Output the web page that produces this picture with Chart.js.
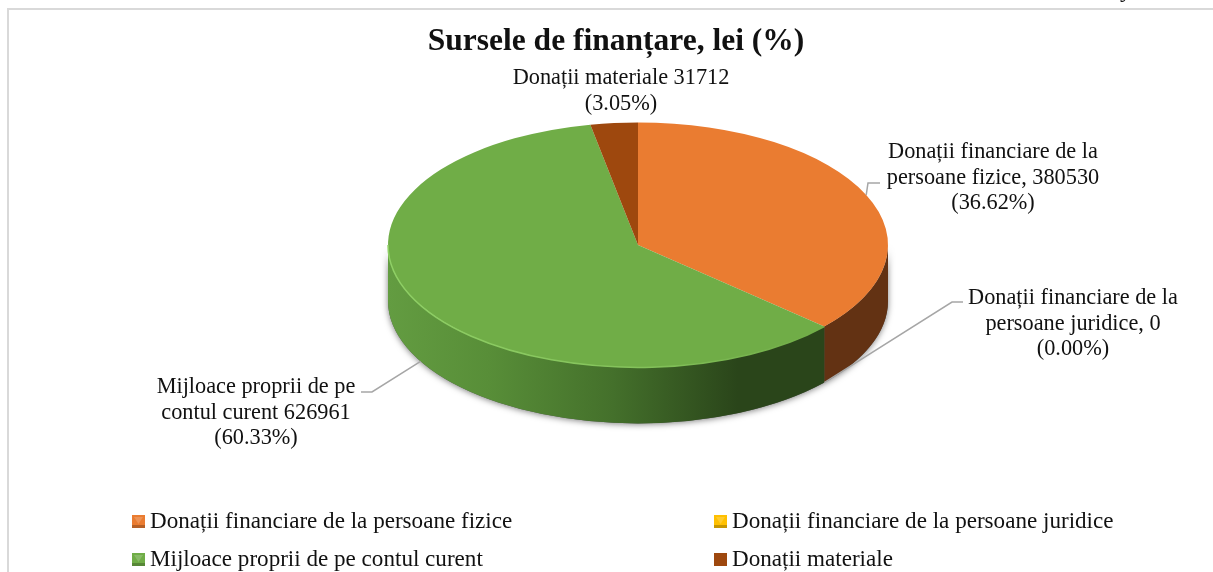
<!DOCTYPE html>
<html>
<head>
<meta charset="utf-8">
<title>Sursele de finanțare</title>
<script src="https://cdn.jsdelivr.net/npm/chart.js@4"></script>
<style>
  html, body { margin: 0; padding: 0; background: #fff; overflow: hidden; }
  canvas { display: block; }
</style>
</head>
<body>
<canvas id="pie-chart" width="1213" height="572"></canvas>
<script>
const chartTitle = 'Sursele de finanțare, lei (%)';
const categories = [
    'Donații financiare de la persoane fizice',
    'Donații financiare de la persoane juridice',
    'Mijloace proprii de pe contul curent',
    'Donații materiale'
];
const values = [380530, 0, 626961, 31712];
const sliceColors = ['#EA7C31', '#FFC000', '#70AD47', '#9E480E'];

const labelLines = [
    ['Donații financiare de la', 'persoane fizice, 380530', '(36.62%)'],
    ['Donații financiare de la', 'persoane juridice, 0', '(0.00%)'],
    ['Mijloace proprii de pe', 'contul curent 626961', '(60.33%)'],
    ['Donații materiale 31712', '(3.05%)']
];

const FONT = '"Liberation Serif", serif';
const SQUASH = 0.49;
const DEPTH = 56;

// pozitia etichetelor: centru x, prima linie y, cotul liniei de legatura
const labelBoxes = [
    { x: 993, y: 158, elbow: [[868, 183], [880, 183]] },
    { x: 1073, y: 304, elbow: [[952, 302], [963, 302]] },
    { x: 256, y: 393, elbow: [[372, 392], [361, 392]] },
    { x: 621, y: 84, elbow: null }
];

const legendBoxes = [
    { x: 132, y: 515 },
    { x: 714, y: 515 },
    { x: 132, y: 553 },
    { x: 714, y: 553 }
];

// peretele lateral al feliei, doar partea vizibila (unghiuri 0..PI)
function drawSides(chart) {
    const ctx = chart.ctx;
    const arcs = chart.getDatasetMeta(0).data;
    const cx = arcs[0].x, cy = arcs[0].y, r = arcs[0].outerRadius;
    const ry = r * SQUASH;

    // umbra
    ctx.save();
    ctx.shadowColor = 'rgba(0,0,0,0.5)';
    ctx.shadowBlur = 6;
    ctx.shadowOffsetY = 1;
    ctx.fillStyle = '#555';
    ctx.beginPath();
    ctx.ellipse(cx, cy, r, ry, 0, Math.PI, 0, true);
    ctx.ellipse(cx, cy + DEPTH, r, ry, 0, 0, Math.PI);
    ctx.closePath();
    ctx.fill();
    ctx.restore();

    arcs.forEach((arc, i) => {
        if (!values[i]) return;
        const a0 = Math.max(arc.startAngle, 0);
        const a1 = Math.min(arc.endAngle, Math.PI);
        if (a1 <= a0) return;
        let fill;
        if (i === 0) {
            fill = '#633213';
        } else {
            fill = ctx.createLinearGradient(cx - r, 0, cx + r, 0);
            fill.addColorStop(0, '#639C41');
            fill.addColorStop(0.2, '#588E38');
            fill.addColorStop(0.45, '#44702B');
            fill.addColorStop(0.7, '#2A451A');
            fill.addColorStop(1, '#2A451A');
        }
        ctx.fillStyle = fill;
        ctx.beginPath();
        ctx.ellipse(cx, cy, r, ry, 0, a0, a1);
        ctx.ellipse(cx, cy + DEPTH, r, ry, 0, a1, a0, true);
        ctx.closePath();
        ctx.fill();
    });
}

function drawRim(chart) {
    const ctx = chart.ctx;
    const arcs = chart.getDatasetMeta(0).data;
    const cx = arcs[0].x, cy = arcs[0].y, r = arcs[0].outerRadius;
    const green = arcs[2];
    const rim = ctx.createLinearGradient(cx - r, 0, cx + r, 0);
    rim.addColorStop(0, '#8FD065');
    rim.addColorStop(0.5, '#84C25B');
    rim.addColorStop(0.85, '#70AD47');
    ctx.save();
    ctx.strokeStyle = rim;
    ctx.lineWidth = 1.5;
    ctx.beginPath();
    ctx.ellipse(cx, cy, r, r * SQUASH, 0, green.startAngle, Math.PI);
    ctx.stroke();
    ctx.restore();
}

function drawLabels(chart) {
    const ctx = chart.ctx;
    const arcs = chart.getDatasetMeta(0).data;
    ctx.save();
    ctx.font = '22.3px ' + FONT;
    ctx.fillStyle = '#111';
    ctx.textAlign = 'center';
    ctx.textBaseline = 'alphabetic';
    labelLines.forEach((lines, i) => {
        lines.forEach((line, k) => {
            ctx.fillText(line, labelBoxes[i].x, labelBoxes[i].y + k * 25.5);
        });
        if (!labelBoxes[i].elbow) return;
        // linia de legatura porneste din mijlocul feliei, pe margine
        const arc = arcs[i];
        const mid = (arc.startAngle + arc.endAngle) / 2;
        const sx = arc.x + arc.outerRadius * Math.cos(mid);
        let sy = arc.y + arc.outerRadius * SQUASH * Math.sin(mid);
        if (Math.sin(mid) > 0) sy += DEPTH;
        ctx.strokeStyle = '#A6A6A6';
        ctx.lineWidth = 1.5;
        ctx.beginPath();
        ctx.moveTo(sx, sy);
        labelBoxes[i].elbow.forEach(p => ctx.lineTo(p[0], p[1]));
        ctx.stroke();
    });
    ctx.restore();
}

function drawLegend(chart) {
    const ctx = chart.ctx;
    ctx.save();
    ctx.font = '23.1px ' + FONT;
    ctx.textBaseline = 'alphabetic';
    ctx.textAlign = 'left';
    categories.forEach((name, i) => {
        const b = legendBoxes[i];
        ctx.fillStyle = sliceColors[i];
        ctx.fillRect(b.x, b.y, 13, 13);
        if (i !== 3) {
            ctx.fillStyle = 'rgba(0,0,0,0.22)';
            ctx.fillRect(b.x, b.y + 10, 13, 3);
            ctx.fillStyle = 'rgba(255,255,255,0.18)';
            ctx.beginPath();
            ctx.moveTo(b.x + 2, b.y + 2);
            ctx.lineTo(b.x + 11, b.y + 2);
            ctx.lineTo(b.x + 6.5, b.y + 9);
            ctx.closePath();
            ctx.fill();
        }
        ctx.fillStyle = '#111';
        ctx.fillText(name, b.x + 18, b.y + 13);
    });
    ctx.restore();
}

const pie3d = {
    id: 'pie3d',
    afterLayout(chart) {
        // titlul nu e centrat pe placinta
        chart.titleBlock.left -= 44;
    },
    beforeDraw(chart) {
        const ctx = chart.ctx;
        ctx.save();
        ctx.strokeStyle = '#D9D9D9';
        ctx.lineWidth = 2;
        ctx.beginPath();
        ctx.moveTo(8, 572);
        ctx.lineTo(8, 9);
        ctx.lineTo(1213, 9);
        ctx.stroke();
        // coada de litera ramasa din pagina, taiata sus
        ctx.font = '24px ' + FONT;
        ctx.fillStyle = '#111';
        ctx.fillText('y', 1120, -3);
        ctx.restore();
    },
    beforeDatasetsDraw(chart) {
        drawSides(chart);
        const arc = chart.getDatasetMeta(0).data[0];
        const ctx = chart.ctx;
        ctx.save();
        ctx.translate(arc.x, arc.y);
        ctx.scale(1, SQUASH);
        ctx.translate(-arc.x, -arc.y);
    },
    afterDatasetsDraw(chart) {
        chart.ctx.restore();
        drawRim(chart);
        drawLabels(chart);
        drawLegend(chart);
    }
};

const ctx = document.getElementById('pie-chart').getContext('2d');
const myChart = new Chart(ctx, {
    type: 'pie',
    data: {
        labels: categories,
        datasets: [{
            data: values,
            backgroundColor: sliceColors,
            borderWidth: 0,
            radius: 250,
            clip: false
        }]
    },
    options: {
        responsive: false,
        animation: false,
        layout: {
            padding: { left: 63, right: 0, top: 0, bottom: 148 }
        },
        plugins: {
            legend: { display: false },
            tooltip: { enabled: false },
            title: {
                display: true,
                text: chartTitle,
                color: '#111',
                font: { family: FONT, size: 31.5, weight: 'bold' },
                padding: { top: 23, bottom: 5 }
            }
        }
    },
    plugins: [pie3d]
});
</script>
</body>
</html>
